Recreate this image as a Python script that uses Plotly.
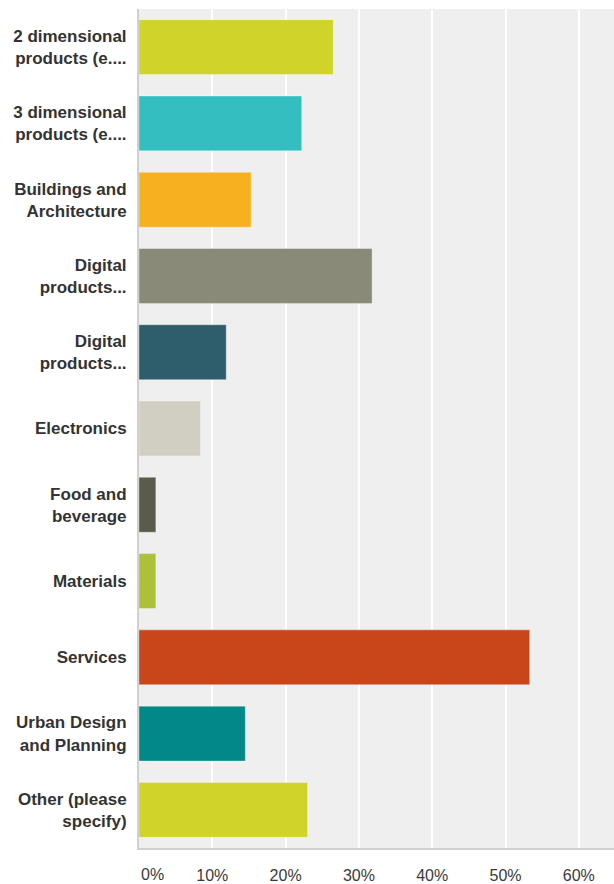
import plotly.graph_objects as go

# Survey responses: share of respondents per category (percent)
categories = [
    "2 dimensional<br>products (e....",
    "3 dimensional<br>products (e....",
    "Buildings and<br>Architecture",
    "Digital<br>products...",
    "Digital<br>products...",
    "Electronics",
    "Food and<br>beverage",
    "Materials",
    "Services",
    "Urban Design<br>and Planning",
    "Other (please<br>specify)",
]
values = [26.5, 22.2, 15.3, 31.8, 11.9, 8.4, 2.3, 2.3, 53.3, 14.5, 23.0]
bar_colors = [
    "#d0d42a", "#34bec0", "#f7b01f", "#8a8a78", "#2e5e6b", "#d0cfc1",
    "#5b5b4b", "#aebf3a", "#c8461a", "#008987", "#d0d42a",
]
tick_values = [0, 10, 20, 30, 40, 50, 60]
tick_labels = ["0%", "10%", "20%", "30%", "40%", "50%", "60%"]

# Unique y positions so the two "Digital products..." rows stay separate
y_pos = list(range(len(categories)))

fig = go.Figure(
    go.Bar(
        x=values,
        y=y_pos,
        orientation="h",
        marker=dict(
            color=bar_colors,
            line=dict(color="rgba(255,255,255,0.35)", width=1),
        ),
        width=0.72,
        hoverinfo="x",
    )
)

fig.update_layout(
    width=614,
    height=884,
    margin=dict(l=139, r=0, t=9, b=36),
    paper_bgcolor="white",
    plot_bgcolor="#efefef",
    showlegend=False,
    font=dict(family="Liberation Sans, Arial, sans-serif", color="#333333"),
)

tick_font = dict(size=16, color="#3a3a3a")

# The first tick label sits just right of the axis line instead of centred on it
fig.add_annotation(
    x=tick_values[0],
    xref="x",
    y=0,
    yref="paper",
    xanchor="left",
    yanchor="middle",
    yshift=-26,
    text=tick_labels[0],
    showarrow=False,
    font=tick_font,
)

fig.update_xaxes(
    range=[0, 64.8],
    tickvals=tick_values,
    ticktext=[""] + tick_labels[1:],
    showgrid=True,
    gridcolor="white",
    gridwidth=1.5,
    zeroline=False,
    showline=True,
    linecolor="#d0d0d0",
    linewidth=2,
    ticks="",
    ticklabelstandoff=12,
    tickfont=tick_font,
)

fig.update_yaxes(
    tickvals=y_pos,
    ticktext=categories,
    range=[len(categories) - 0.5, -0.5],
    showgrid=False,
    zeroline=False,
    showline=True,
    linecolor="#d0d0d0",
    linewidth=2,
    ticks="",
    ticklabelstandoff=7,
    tickfont=dict(size=17, color="#333333", weight="bold"),
)

fig.write_html("out.html")
